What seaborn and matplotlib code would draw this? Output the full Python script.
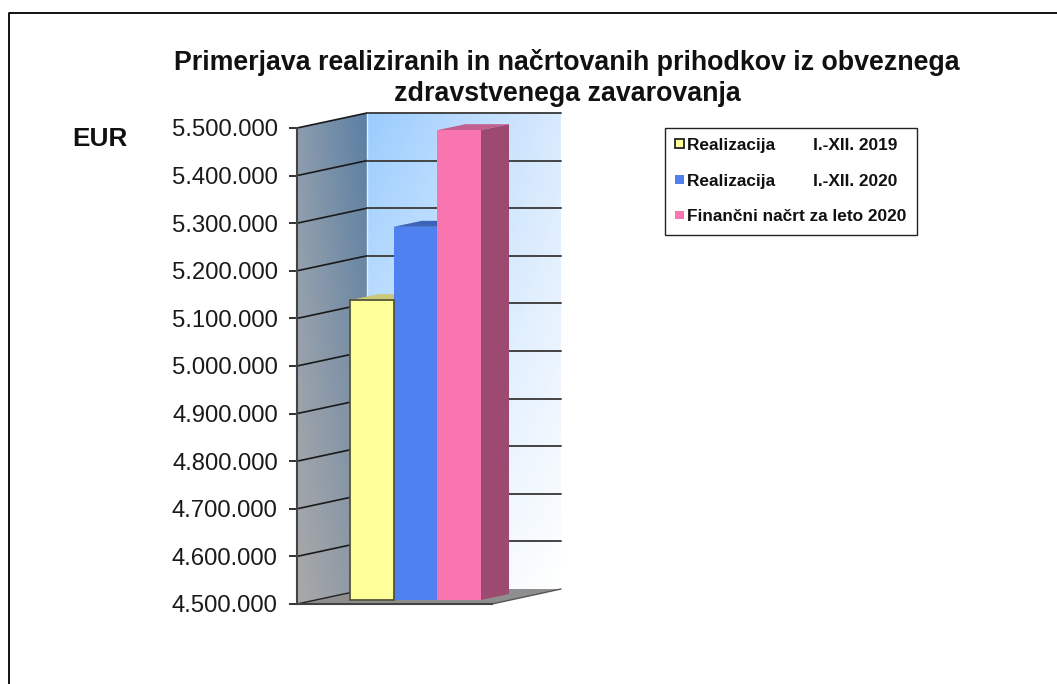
import numpy as np
import pandas as pd
import matplotlib
matplotlib.use("Agg")
import matplotlib.pyplot as plt
from matplotlib.patches import Polygon
from matplotlib.colors import to_rgb
from matplotlib.ticker import FuncFormatter
import seaborn as sns

# ---- data ----
series = ["Realizacija        I.-XII. 2019", "Realizacija        I.-XII. 2020", "Finančni načrt za leto 2020"]
values = [5130000, 5284000, 5487000]
y_ticks = [4500000, 4600000, 4700000, 4800000, 4900000, 5000000, 5100000, 5200000, 5300000, 5400000, 5500000]
title_text = "Primerjava realiziranih in načrtovanih prihodkov iz obveznega\nzdravstvenega zavarovanja"
unit_label = "EUR"
front_colors = ["#ffff99", "#4f81f0", "#f875b0"]
top_colors = ["#c9c977", "#3d63b8", "#c2608f"]
side_colors = ["#a8a860", "#34558f", "#9c4a70"]

W, H = 1057, 684
sns.set_theme(style="white")
plt.rcParams["font.family"] = ["Liberation Sans", "DejaVu Sans"]
fig = plt.figure(figsize=(W / 100, H / 100), dpi=100, facecolor="white")


def rect(left, top, right, bottom):
    return [left / W, 1 - bottom / H, (right - left) / W, (bottom - top) / H]


# backdrop in pixel coordinates: frame, walls, floor
bg = fig.add_axes([0, 0, 1, 1], zorder=0)
bg.set_xlim(0, W)
bg.set_ylim(H, 0)
bg.set_axis_off()

DX, DY = 70, 15            # depth of the chart box
FL, FR, FT, FB = 297, 492, 128, 604   # front plane
BL, BR, BT, BB = FL + DX, FR + DX - 1, FT - DY, FB - DY


def gradient(corners, n=200):
    tl, tr, bl, br = [np.array(to_rgb(c)) for c in corners]
    u, v = np.meshgrid(np.linspace(0, 1, n), np.linspace(0, 1, n))
    u, v = u[..., None], v[..., None]
    return (1 - v) * ((1 - u) * tl + u * tr) + v * ((1 - u) * bl + u * br)


# left wall
left_poly = Polygon([(FL, FT), (BL, BT), (BL, BB), (FL, FB)], closed=True, fc="none", ec="none")
bg.add_patch(left_poly)
im = bg.imshow(gradient(["#8c9cae", "#5a7fa3", "#a9a9a9", "#8a97a6"]),
               extent=(FL, BL, FB, BT), aspect="auto", interpolation="bilinear", zorder=1)
im.set_clip_path(left_poly)

# back wall
bg.imshow(gradient(["#9accff", "#d9eafd", "#e6f2ff", "#ffffff"]),
          extent=(BL, BR, BB, BT), aspect="auto", interpolation="bilinear", zorder=1)
bg.plot([BL, BL], [BT, BB], color="#e4eef8", lw=1.0, zorder=1.5)
bg.set_xlim(0, W)
bg.set_ylim(H, 0)

# floor
bg.add_patch(Polygon([(FL, FB), (FR, FB), (BR, BB), (BL, BB)], closed=True, fc="#8e8e8e", ec="none", zorder=1.4))
bg.plot([FR, BR], [FB, BB], color="#555555", lw=1.0, zorder=1.6)

# outer frame (runs off the picture on the top right and the bottom)
bg.plot([8.5, 8.5, W + 5], [H + 5, 12.5, 12.5], color="black", lw=1.3, zorder=1, clip_on=False)

# front plane with the real value axis
ax = fig.add_axes(rect(FL, FT, FR, FB), zorder=1)
ax.patch.set_alpha(0)
ax.set_ylim(y_ticks[0], y_ticks[-1])
ax.set_xticks([])
ax.set_yticks(y_ticks)
ax.yaxis.set_major_formatter(FuncFormatter(lambda v, _: f"{int(v):,}".replace(",", ".")))
ax.tick_params(axis="y", left=True, length=5.8, width=1.2, color="#111111", pad=8,
               labelsize=17.2, labelcolor="#1a1a1a")
for name, spine in ax.spines.items():
    spine.set_visible(name in ("left", "bottom"))
    spine.set_color("#444444")
    spine.set_linewidth(1.5)

# gridlines on both walls, from the axis ticks
for tick in y_ticks:
    yp = H - ax.transData.transform((0, tick))[1]
    if tick != y_ticks[0]:
        bg.plot([FL, BL], [yp, yp - DY], color="#1a1a1a", lw=1.2, zorder=2)
        bg.plot([BL, BR], [yp - DY, yp - DY], color="#444444", lw=1.4, zorder=2)
    else:
        bg.plot([FL, BL], [yp, yp - DY], color="#222222", lw=1.0, zorder=2)

# bars, standing a little behind the front plane
bar_ax = fig.add_axes(rect(350, 124, 480.5, 600), zorder=2)
df = pd.DataFrame({"group": [""] * 3, "series": series, "value": values})
sns.barplot(data=df, x="group", y="value", hue="series", hue_order=series,
            palette=front_colors, width=1.0, gap=0, dodge=True, saturation=1,
            errorbar=None, ax=bar_ax, legend=True, linewidth=0, edgecolor="none")
bar_ax.set_xlim(-0.5, 0.5)
bar_ax.set_ylim(y_ticks[0], y_ticks[-1])
bar_ax.set_xlabel("")
bar_ax.set_ylabel("")
handles, labels = bar_ax.get_legend_handles_labels()

dx = 28.5 / 130.5
dy = 6 / 476 * (y_ticks[-1] - y_ticks[0])
base = y_ticks[0]
bars = list(bar_ax.patches)[:3]
for i, b in enumerate(bars):
    x0, x1, top = b.get_x(), b.get_x() + b.get_width(), b.get_height()
    b.set_y(base)
    b.set_height(top - base)
    b.set_zorder(3 + i + 0.5)
    bar_ax.add_patch(Polygon([(x0, top), (x1, top), (x1 + dx, top + dy), (x0 + dx, top + dy)], closed=True,
                             fc=top_colors[i], ec="none", zorder=3 + i, clip_on=False))
    bar_ax.add_patch(Polygon([(x1, base), (x1 + dx, base + dy), (x1 + dx, top + dy), (x1, top)], closed=True,
                             fc=side_colors[i], ec="none", zorder=3 + i, clip_on=False))
bars[0].set_edgecolor("#55553a")
bars[0].set_linewidth(1.3)
bars[0].set_clip_on(False)
bars[0].set_zorder(5.6)
bar_ax.patch.set_alpha(0)
for sp in bar_ax.spines.values():
    sp.set_visible(False)
bar_ax.set_xticks([])
bar_ax.set_yticks([])

# legend
if bar_ax.get_legend() is not None:
    bar_ax.get_legend().remove()
handles[0].set_edgecolor("#222222")
handles[0].set_linewidth(1.3)
leg = fig.legend(handles, labels, loc="upper left",
                 bbox_to_anchor=(665 / W, 1 - 127.5 / H), bbox_transform=fig.transFigure,
                 fontsize=12.4, frameon=True, fancybox=False, framealpha=1,
                 edgecolor="#222222", handlelength=0.48, handleheight=0.38,
                 handletextpad=0.2, labelspacing=1.2, borderpad=0.6, borderaxespad=0)
leg.get_frame().set_linewidth(1.0)
for t in leg.get_texts():
    t.set_fontweight("bold")
    t.set_color("#111111")
leg.set_zorder(10)

# title and unit
fig.text(567 / W, 1 - 78 / H, title_text, ha="center", va="center", fontsize=19.3,
         fontweight="bold", color="#111111", linespacing=1.27)
fig.text(100 / W, 1 - 138.5 / H, unit_label, ha="center", va="center", fontsize=18.8,
         fontweight="bold", color="#111111")

fig.savefig("out.png", dpi=100)
